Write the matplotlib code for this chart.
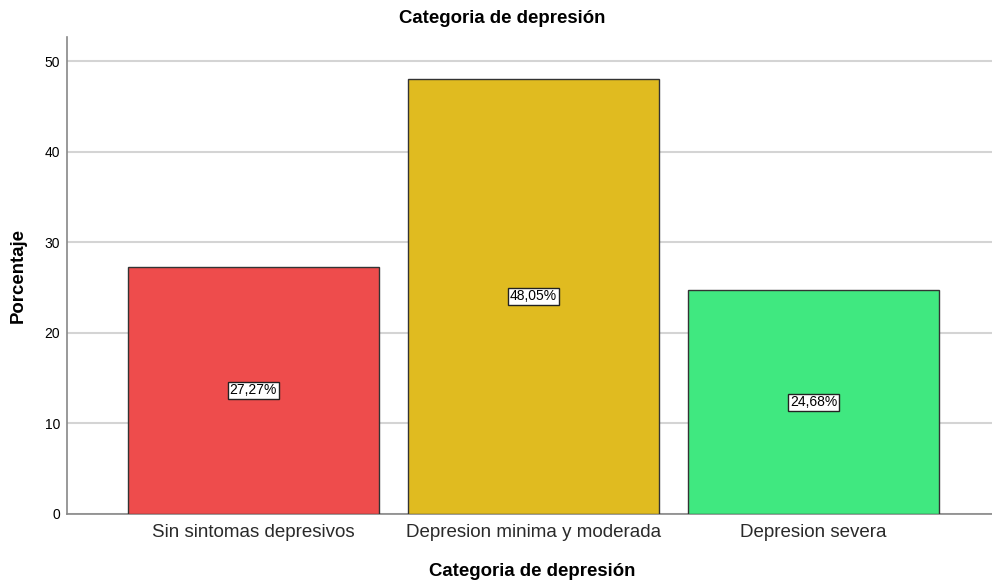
import matplotlib
matplotlib.use("Agg")
import matplotlib.pyplot as plt

categories = ["Sin sintomas depresivos", "Depresion minima y moderada", "Depresion severa"]
percentages = [27.27, 48.05, 24.68]
colors = ["#EE4C4C", "#E0BB20", "#40E880"]
yticks = [0, 10, 20, 30, 40, 50]

plt.rcParams["font.family"] = ["Liberation Sans", "DejaVu Sans"]

fig = plt.figure(figsize=(9.92, 5.83), dpi=100)
ax = fig.add_axes([0.0675, 0.1184, 0.9325, 0.8181])

x = list(range(len(categories)))
ax.bar(x, percentages, width=0.896, color=colors, edgecolor="#333333",
       linewidth=1.0, zorder=3)

for xi, v in zip(x, percentages):
    ax.text(xi, v / 2, f"{v:.2f}%".replace(".", ","), ha="center", va="center",
            fontsize=10, color="black", zorder=4,
            bbox=dict(boxstyle="square,pad=0.12", facecolor="white",
                      edgecolor="#222222", linewidth=1.0))

ax.set_xlim(-0.666, 2.638)
ax.set_ylim(0, 52.65)
ax.set_yticks(yticks)
ax.set_yticklabels([str(t) for t in yticks], fontsize=10)
ax.set_xticks(x)
ax.set_xticklabels(categories, fontsize=13.5, color="#2a2a2a")
ax.tick_params(axis="y", length=0, pad=5)
ax.tick_params(axis="x", length=0, pad=7)

ax.grid(axis="y", color="#D4D4D4", linewidth=1.5, zorder=0)
for side in ["top", "right"]:
    ax.spines[side].set_visible(False)
ax.spines["left"].set_color("#888888")
ax.spines["left"].set_linewidth(1.2)
ax.spines["bottom"].set_color("#888888")
ax.spines["bottom"].set_linewidth(1.2)

fig.text(0.506, 0.969, "Categoria de depresión", ha="center", va="center",
         fontsize=13.4, fontweight="bold")
fig.text(0.536, 0.0189, "Categoria de depresión", ha="center", va="center",
         fontsize=13.4, fontweight="bold")
fig.text(0.018, 0.528, "Porcentaje", ha="center", va="center", rotation=90,
         fontsize=13.4, fontweight="bold")

fig.savefig("out.png", dpi=100)
